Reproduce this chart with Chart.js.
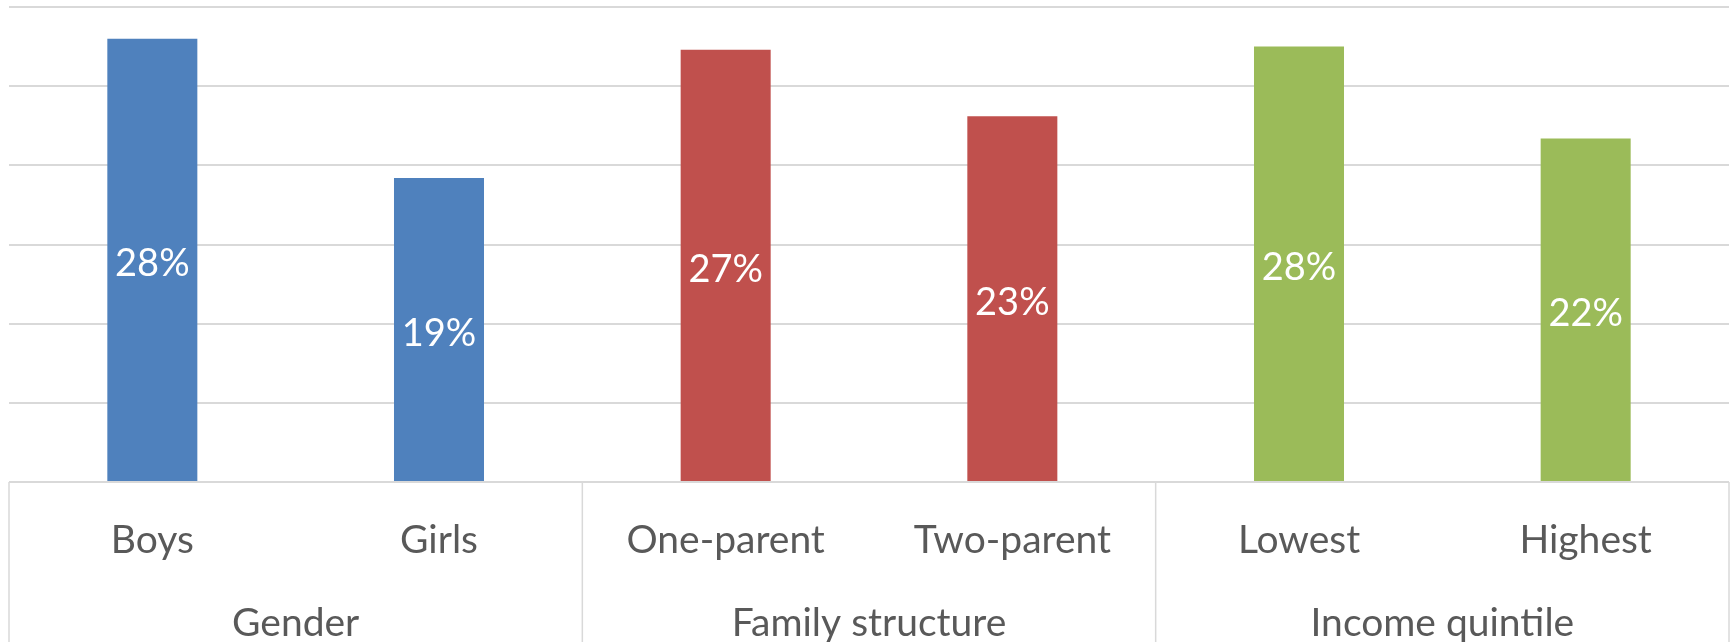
<!DOCTYPE html>
<html>
<head>
<meta charset="utf-8">
<script src="https://cdn.jsdelivr.net/npm/chart.js@4/dist/chart.umd.min.js"></script>
<style>
  html, body { margin: 0; padding: 0; background: #ffffff; }
  #wrap { width: 1733px; height: 642px; }
</style>
</head>
<body>
<div id="wrap"><canvas id="chart"></canvas></div>
<script>
const CATEGORIES = ["Boys", "Girls", "One-parent", "Two-parent", "Lowest", "Highest"];
const VALUES = [28.0, 19.2, 27.3, 23.1, 27.5, 21.7];
const GROUPS = ["Gender", "Family structure", "Income quintile"];
const GROUP_SIZES = [2, 2, 2];
const Y_TICKS = [0, 5, 10, 15, 20, 25, 30];

const GROUP_COLORS = ["#4f81bd", "#c0504d", "#9bbb59"];
const TEXT_COLOR = "#595959";
const LINE_COLOR = "#d9d9d9";
const FONT = "Lato";

// colour per bar from its group
const barColors = [];
GROUP_SIZES.forEach((n, g) => {
  for (let i = 0; i < n; i++) barColors.push(GROUP_COLORS[g]);
});

// white value labels centred in each bar
const valueLabels = {
  id: "valueLabels",
  afterDatasetsDraw(chart) {
    const ctx = chart.ctx;
    const meta = chart.getDatasetMeta(0);
    ctx.save();
    ctx.fillStyle = "#ffffff";
    ctx.font = "38px " + FONT;
    ctx.textAlign = "center";
    ctx.textBaseline = "middle";
    meta.data.forEach((bar, i) => {
      const y = (bar.y + bar.base) / 2 + 4;
      ctx.fillText(Math.round(VALUES[i]) + "%", bar.x, y);
    });
    ctx.restore();
  }
};

// vertical separators between the groups, under the plot
const groupSeparators = {
  id: "groupSeparators",
  afterDraw(chart) {
    const ctx = chart.ctx;
    const x = chart.scales.x;
    const half = (x.getPixelForValue(1) - x.getPixelForValue(0)) / 2;
    const edges = [x.getPixelForValue(0) - half];
    let idx = 0;
    GROUP_SIZES.forEach(n => {
      idx += n;
      edges.push(x.getPixelForValue(idx - 1) + half);
    });
    ctx.save();
    ctx.strokeStyle = LINE_COLOR;
    ctx.lineWidth = 1.5;
    edges.forEach(px => {
      ctx.beginPath();
      ctx.moveTo(px, chart.chartArea.bottom);
      ctx.lineTo(px, chart.height);
      ctx.stroke();
    });
    ctx.restore();
  }
};

new Chart(document.getElementById("chart"), {
  type: "bar",
  data: {
    labels: CATEGORIES,
    datasets: [{
      data: VALUES,
      backgroundColor: barColors,
      borderWidth: 0,
      barPercentage: 0.314,
      categoryPercentage: 1
    }]
  },
  options: {
    responsive: true,
    maintainAspectRatio: false,
    animation: false,
    layout: { padding: { left: 9, right: 4, top: 7, bottom: 0 } },
    plugins: {
      legend: { display: false },
      tooltip: { enabled: false }
    },
    scales: {
      y: {
        min: Y_TICKS[0],
        max: Y_TICKS[Y_TICKS.length - 1],
        afterBuildTicks(scale) {
          scale.ticks = Y_TICKS.map(v => ({ value: v }));
        },
        ticks: { display: false },
        border: { display: false },
        grid: { color: LINE_COLOR, lineWidth: 2, drawTicks: false }
      },
      x: {
        grid: { display: false },
        border: { display: false },
        ticks: {
          color: TEXT_COLOR,
          padding: 31,
          font: { family: FONT, size: 39, lineHeight: 1 }
        },
        afterFit(scale) { scale.height = 110; }
      },
      x2: {
        type: "category",
        position: "bottom",
        labels: GROUPS,
        offset: true,
        grid: { display: false },
        border: { display: false },
        ticks: {
          color: TEXT_COLOR,
          padding: 4,
          font: { family: FONT, size: 39, lineHeight: 1 }
        },
        afterFit(scale) { scale.height = 50; }
      }
    }
  },
  plugins: [valueLabels, groupSeparators]
});
</script>
</body>
</html>
